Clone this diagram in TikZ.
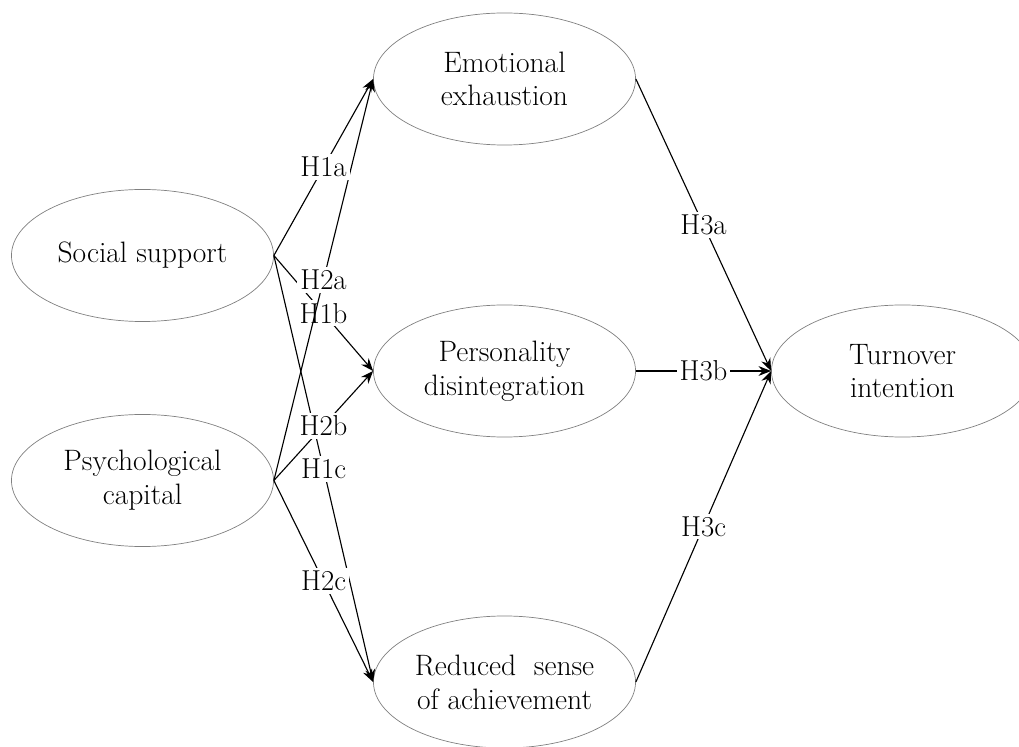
\documentclass[tikz,border=0pt]{standalone}
\usepackage{amsmath}
\usetikzlibrary{shapes.geometric,arrows.meta}
\tikzset{
  latent/.style={ellipse,draw=gray,line width=0.5pt,minimum width=6.55cm,minimum height=3.3cm,inner sep=0pt,align=center,font=\fontsize{21}{24}\selectfont},
  hyp/.style={-{Stealth[length=9pt,width=7pt]},line width=0.8pt},
  hlab/.style={fill=white,inner sep=2pt,font=\fontsize{20.5}{22}\selectfont}
}
\begin{document}
\begin{tikzpicture}[x=0.025cm,y=-0.025cm]
    \useasboundingbox (0,0) rectangle (1019,747);
    \node[latent] (ss) at (142.5,255.5) {Social support};
    \node[latent] (pc) at (142.5,480.5) {Psychological\\capital};
    \node[latent] (ee) at (504.5,79) {Emotional\\exhaustion};
    \node[latent] (pd) at (504.5,371) {Personality\\disintegration};
    \node[latent] (rs) at (504.5,682) {Reduced~~sense\\of achievement};
    \node[latent] (ti) at (902.5,371) {Turnover\\intention};
    \draw[hyp] (ss.east) -- node[hlab]{H1b} (pd.west);
    \draw[hyp] (pc.east) -- node[hlab]{H2a} (ee.west);
    \draw[hyp] (ss.east) -- node[hlab]{H1a} (ee.west);
    \draw[hyp] (ss.east) -- node[hlab]{H1c} (rs.west);
    \draw[hyp] (pc.east) -- node[hlab]{H2b} (pd.west);
    \draw[hyp] (pc.east) -- node[hlab]{H2c} (rs.west);
    \draw[hyp] (ee.east) -- node[hlab]{H3a} (ti.west);
    \draw[hyp] (pd.east) -- node[hlab]{H3b} (ti.west);
    \draw[hyp] (rs.east) -- node[hlab]{H3c} (ti.west);
  \end{tikzpicture}
\end{document}
